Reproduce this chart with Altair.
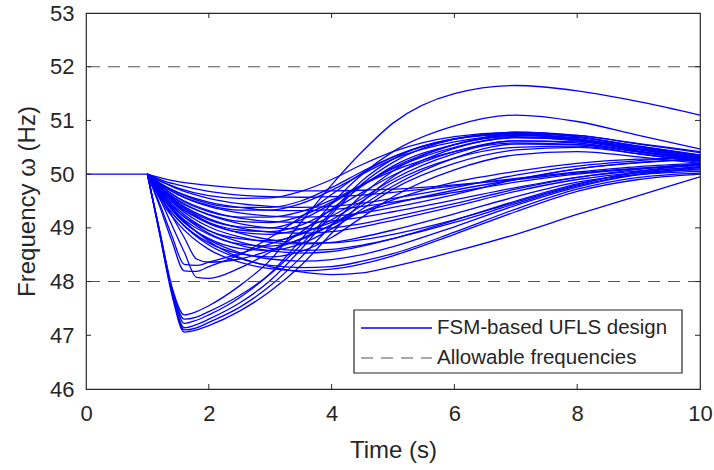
import altair as alt
import pandas as pd

SERIES_LINE = "FSM-based UFLS design"
SERIES_LIMIT = "Allowable frequencies"

# time grids (s)
pre_t = [0, 1]
pre_f = [50, 50]
fast_t = [1, 1.2, 1.4, 1.6, 1.8, 2, 2.5, 3, 3.5, 4, 4.5, 5, 6, 7, 8, 9, 10]
slow_t = [1, 1.25, 1.5, 2, 2.5, 3, 3.5, 4, 4.5, 5, 6, 7, 8, 9, 10]

# fast-dipping trajectories (Hz) on fast_t
d1 = [50, 48.95, 47.9, 47.38, 47.44, 47.55, 47.92, 48.4, 49.1, 49.8, 50.42, 50.95, 51.5, 51.65, 51.55, 51.35, 51.1]
d2 = [50, 48.92, 47.85, 47.22, 47.28, 47.38, 47.7, 48.15, 48.78, 49.45, 50.0, 50.42, 50.9, 51.1, 50.98, 50.72, 50.47]
d3 = [50, 48.9, 47.8, 47.14, 47.2, 47.3, 47.6, 48.02, 48.6, 49.25, 49.82, 50.22, 50.65, 50.78, 50.7, 50.5, 50.32]
d4 = [50, 48.9, 47.8, 47.1, 47.14, 47.24, 47.52, 47.92, 48.45, 49.05, 49.62, 50.06, 50.55, 50.72, 50.65, 50.45, 50.28]
d5 = [50, 48.88, 47.75, 47.06, 47.1, 47.18, 47.45, 47.82, 48.3, 48.9, 49.48, 49.95, 50.48, 50.68, 50.62, 50.43, 50.26]
d6 = [50, 48.93, 47.86, 47.3, 47.34, 47.44, 47.74, 48.14, 48.68, 49.3, 49.88, 50.28, 50.66, 50.76, 50.66, 50.47, 50.3]
f1 = [50, 49.55, 49.05, 48.55, 48.08, 48.06, 48.25, 48.55, 48.92, 49.35, 49.78, 50.15, 50.55, 50.7, 50.65, 50.5, 50.35]
f2 = [50, 49.4, 48.75, 48.2, 48.19, 48.28, 48.5, 48.82, 49.2, 49.62, 50.02, 50.32, 50.65, 50.74, 50.64, 50.46, 50.31]
f3 = [50, 49.45, 48.85, 48.32, 48.3, 48.36, 48.52, 48.7, 48.9, 49.1, 49.3, 49.45, 49.7, 49.9, 50.1, 50.22, 50.28]
f4 = [50, 49.62, 49.22, 48.82, 48.42, 48.36, 48.42, 48.58, 48.8, 49.05, 49.3, 49.52, 49.85, 50.05, 50.2, 50.28, 50.3]

# slowly-dipping trajectories (Hz) on slow_t, upper group
u1 = [50, 49.85, 49.74, 49.6, 49.55, 49.56, 49.68, 49.9, 50.18, 50.42, 50.7, 50.78, 50.72, 50.57, 50.42]
u2 = [50, 49.78, 49.62, 49.42, 49.33, 49.33, 49.45, 49.7, 50.0, 50.28, 50.6, 50.72, 50.68, 50.52, 50.35]
u3 = [50, 49.72, 49.5, 49.25, 49.12, 49.1, 49.22, 49.48, 49.8, 50.1, 50.5, 50.68, 50.64, 50.47, 50.3]
u4 = [50, 49.65, 49.4, 49.1, 48.96, 48.93, 49.05, 49.33, 49.66, 49.98, 50.42, 50.62, 50.58, 50.42, 50.26]
u5 = [50, 49.6, 49.3, 48.95, 48.8, 48.76, 48.88, 49.15, 49.5, 49.85, 50.3, 50.5, 50.52, 50.38, 50.22]
u6 = [50, 49.7, 49.45, 49.15, 49.02, 49.0, 49.15, 49.45, 49.8, 50.12, 50.55, 50.75, 50.72, 50.56, 50.4]
u7 = [50, 49.55, 49.2, 48.8, 48.62, 48.58, 48.7, 48.98, 49.35, 49.72, 50.2, 50.45, 50.5, 50.38, 50.24]
u8 = [50, 49.75, 49.55, 49.3, 49.2, 49.2, 49.3, 49.52, 49.8, 50.06, 50.42, 50.58, 50.55, 50.42, 50.28]
u9 = [50, 49.5, 49.15, 48.72, 48.52, 48.46, 48.56, 48.82, 49.2, 49.58, 50.08, 50.36, 50.42, 50.32, 50.2]
u10 = [50, 49.8, 49.65, 49.45, 49.38, 49.38, 49.5, 49.75, 50.05, 50.32, 50.65, 50.76, 50.7, 50.52, 50.36]
u11 = [50, 49.58, 49.25, 48.88, 48.7, 48.66, 48.78, 49.06, 49.42, 49.78, 50.3, 50.56, 50.55, 50.41, 50.25]
u12 = [50, 49.68, 49.42, 49.08, 48.92, 48.88, 48.98, 49.22, 49.55, 49.9, 50.38, 50.62, 50.6, 50.47, 50.33]

# slowly-dipping trajectories (Hz) on slow_t, lower group
l1 = [50, 49.92, 49.86, 49.79, 49.74, 49.71, 49.69, 49.69, 49.7, 49.72, 49.8, 49.9, 50.02, 50.11, 50.18]
l2 = [50, 49.88, 49.8, 49.68, 49.61, 49.58, 49.57, 49.58, 49.61, 49.66, 49.78, 49.92, 50.04, 50.14, 50.2]
l3 = [50, 49.8, 49.66, 49.48, 49.38, 49.33, 49.32, 49.34, 49.4, 49.48, 49.66, 49.85, 50.0, 50.1, 50.16]
l4 = [50, 49.75, 49.56, 49.32, 49.18, 49.12, 49.1, 49.13, 49.2, 49.3, 49.52, 49.75, 49.94, 50.06, 50.12]
l5 = [50, 49.7, 49.47, 49.17, 49.0, 48.92, 48.9, 48.93, 49.02, 49.14, 49.4, 49.68, 49.9, 50.03, 50.08]
l6 = [50, 49.65, 49.38, 49.02, 48.83, 48.73, 48.7, 48.73, 48.83, 48.96, 49.26, 49.58, 49.85, 49.99, 50.05]
l7 = [50, 49.6, 49.3, 48.9, 48.68, 48.57, 48.53, 48.56, 48.66, 48.8, 49.14, 49.5, 49.82, 50.03, 50.14]
l8 = [50, 49.55, 49.22, 48.78, 48.54, 48.42, 48.38, 48.41, 48.5, 48.65, 49.02, 49.42, 49.76, 49.99, 50.1]
l9 = [50, 49.5, 49.15, 48.68, 48.43, 48.3, 48.26, 48.28, 48.38, 48.52, 48.92, 49.35, 49.72, 49.94, 50.02]
l10 = [50, 49.6, 49.25, 48.75, 48.45, 48.28, 48.18, 48.13, 48.16, 48.28, 48.56, 48.88, 49.25, 49.6, 49.95]
l11 = [50, 49.45, 49.08, 48.6, 48.36, 48.24, 48.2, 48.23, 48.33, 48.48, 48.88, 49.3, 49.68, 49.9, 50.0]
l12 = [50, 49.68, 49.45, 49.1, 48.9, 48.78, 48.72, 48.72, 48.78, 48.88, 49.15, 49.48, 49.8, 50.05, 50.18]
l13 = [50, 49.85, 49.72, 49.55, 49.45, 49.4, 49.38, 49.4, 49.46, 49.55, 49.75, 49.98, 50.15, 50.25, 50.32]
l14 = [50, 49.78, 49.62, 49.4, 49.28, 49.22, 49.2, 49.22, 49.28, 49.38, 49.62, 49.9, 50.1, 50.21, 50.28]
l15 = [50, 49.62, 49.34, 48.95, 48.74, 48.62, 48.58, 48.6, 48.68, 48.8, 49.1, 49.45, 49.78, 50.0, 50.12]
l16 = [50, 49.72, 49.52, 49.24, 49.08, 49.0, 48.98, 49.0, 49.08, 49.2, 49.45, 49.72, 49.94, 50.09, 50.2]

fast_runs = [d1, d2, d3, d4, d5, d6, f1, f2, f3, f4]
slow_runs = [u1, u2, u3, u4, u5, u6, u7, u8, u9, u10, u11, u12,
             l1, l2, l3, l4, l5, l6, l7, l8, l9, l10, l11, l12, l13, l14, l15, l16]

limit_values = [52, 48]
x_ticks = [0, 2, 4, 6, 8, 10]
y_ticks = [46, 47, 48, 49, 50, 51, 52, 53]
x_inner_ticks = [2, 4, 6, 8]
y_inner_ticks = [47, 48, 49, 50, 51, 52]

rows = []
for t, f in zip(pre_t, pre_f):
    rows.append({"t": t, "f": f, "run": "pre"})
for i, vals in enumerate(fast_runs):
    for t, f in zip(fast_t, vals):
        rows.append({"t": t, "f": f, "run": f"fast{i}"})
for i, vals in enumerate(slow_runs):
    for t, f in zip(slow_t, vals):
        rows.append({"t": t, "f": f, "run": f"slow{i}"})
df = pd.DataFrame(rows)

limits = pd.DataFrame({"f": limit_values})
xt = pd.DataFrame({"t": x_inner_ticks})
yt = pd.DataFrame({"f": y_inner_ticks})

W, H = 614, 376
FONT = "Liberation Sans"
TXT = "#262626"
BLUE = "#0000ff"
GRAY = "#555555"

xscale = alt.Scale(domain=[0, 10], nice=False, zero=False)
yscale = alt.Scale(domain=[46, 53], nice=False, zero=False)

x_enc = alt.X("t:Q", scale=xscale, axis=alt.Axis(
    values=x_ticks, format="d", title="Time (s)", ticks=False, domain=False, grid=False,
    labelFlush=False, labelPadding=14, titlePadding=14, labelOverlap=False))
y_enc = alt.Y("f:Q", scale=yscale, axis=alt.Axis(
    values=y_ticks, format="d", title="Frequency ω (Hz)", ticks=False, domain=False, grid=False,
    labelFlush=False, labelPadding=12, titlePadding=10, labelOverlap=False))

lines = alt.Chart(df).mark_line(
    interpolate="monotone", strokeWidth=1.3, clip=True, color=BLUE
).encode(x=x_enc, y=y_enc, detail="run:N")

rules = alt.Chart(limits).mark_rule(strokeWidth=1.1, color=GRAY, strokeDash=[12, 8]).encode(
    y=alt.Y("f:Q", scale=yscale))

tick_color = TXT
xb = alt.Chart(xt).mark_rule(color=tick_color, strokeWidth=1).encode(
    x=alt.X("t:Q", scale=xscale), y=alt.value(H), y2=alt.value(H - 5))
xtp = alt.Chart(xt).mark_rule(color=tick_color, strokeWidth=1).encode(
    x=alt.X("t:Q", scale=xscale), y=alt.value(0), y2=alt.value(5))
yl = alt.Chart(yt).mark_rule(color=tick_color, strokeWidth=1).encode(
    y=alt.Y("f:Q", scale=yscale), x=alt.value(0), x2=alt.value(5))
yr = alt.Chart(yt).mark_rule(color=tick_color, strokeWidth=1).encode(
    y=alt.Y("f:Q", scale=yscale), x=alt.value(W), x2=alt.value(W - 5))

# legend (drawn as a box with two entries)
leg_line = pd.DataFrame({"label": [SERIES_LINE]})
leg_limit = pd.DataFrame({"label": [SERIES_LIMIT]})
leg_box = alt.Chart(leg_line).mark_rect(fill="white", stroke=TXT, strokeWidth=1.2).encode(
    x=alt.value(268), x2=alt.value(596), y=alt.value(297), y2=alt.value(360))
leg_s1 = alt.Chart(leg_line).mark_rule(color=BLUE, strokeWidth=1.3).encode(
    x=alt.value(275), x2=alt.value(346), y=alt.value(315))
leg_s2 = alt.Chart(leg_limit).mark_rule(color=GRAY, strokeWidth=1.1, strokeDash=[12, 8]).encode(
    x=alt.value(275), x2=alt.value(346), y=alt.value(345))
leg_t1 = alt.Chart(leg_line).mark_text(
    align="left", baseline="middle", font=FONT, fontSize=20.5, color=TXT
).encode(text="label:N", x=alt.value(351), y=alt.value(315))
leg_t2 = alt.Chart(leg_limit).mark_text(
    align="left", baseline="middle", font=FONT, fontSize=20.5, color=TXT
).encode(text="label:N", x=alt.value(351), y=alt.value(345))

chart = alt.layer(
    lines, rules, xb, xtp, yl, yr, leg_box, leg_s1, leg_s2, leg_t1, leg_t2
).properties(
    width=W, height=H,
    autosize=alt.AutoSizeParams(type="none"),
    padding={"left": 86, "top": 13, "right": 14, "bottom": 81},
    background="white",
).configure_view(
    stroke=TXT, strokeWidth=1.2,
).configure_axis(
    labelFont=FONT, labelFontSize=22, labelColor=TXT,
    titleFont=FONT, titleFontSize=24, titleColor=TXT, titleFontWeight="normal",
)

chart.save("out.html", embed_options={"renderer": "svg", "actions": False})
